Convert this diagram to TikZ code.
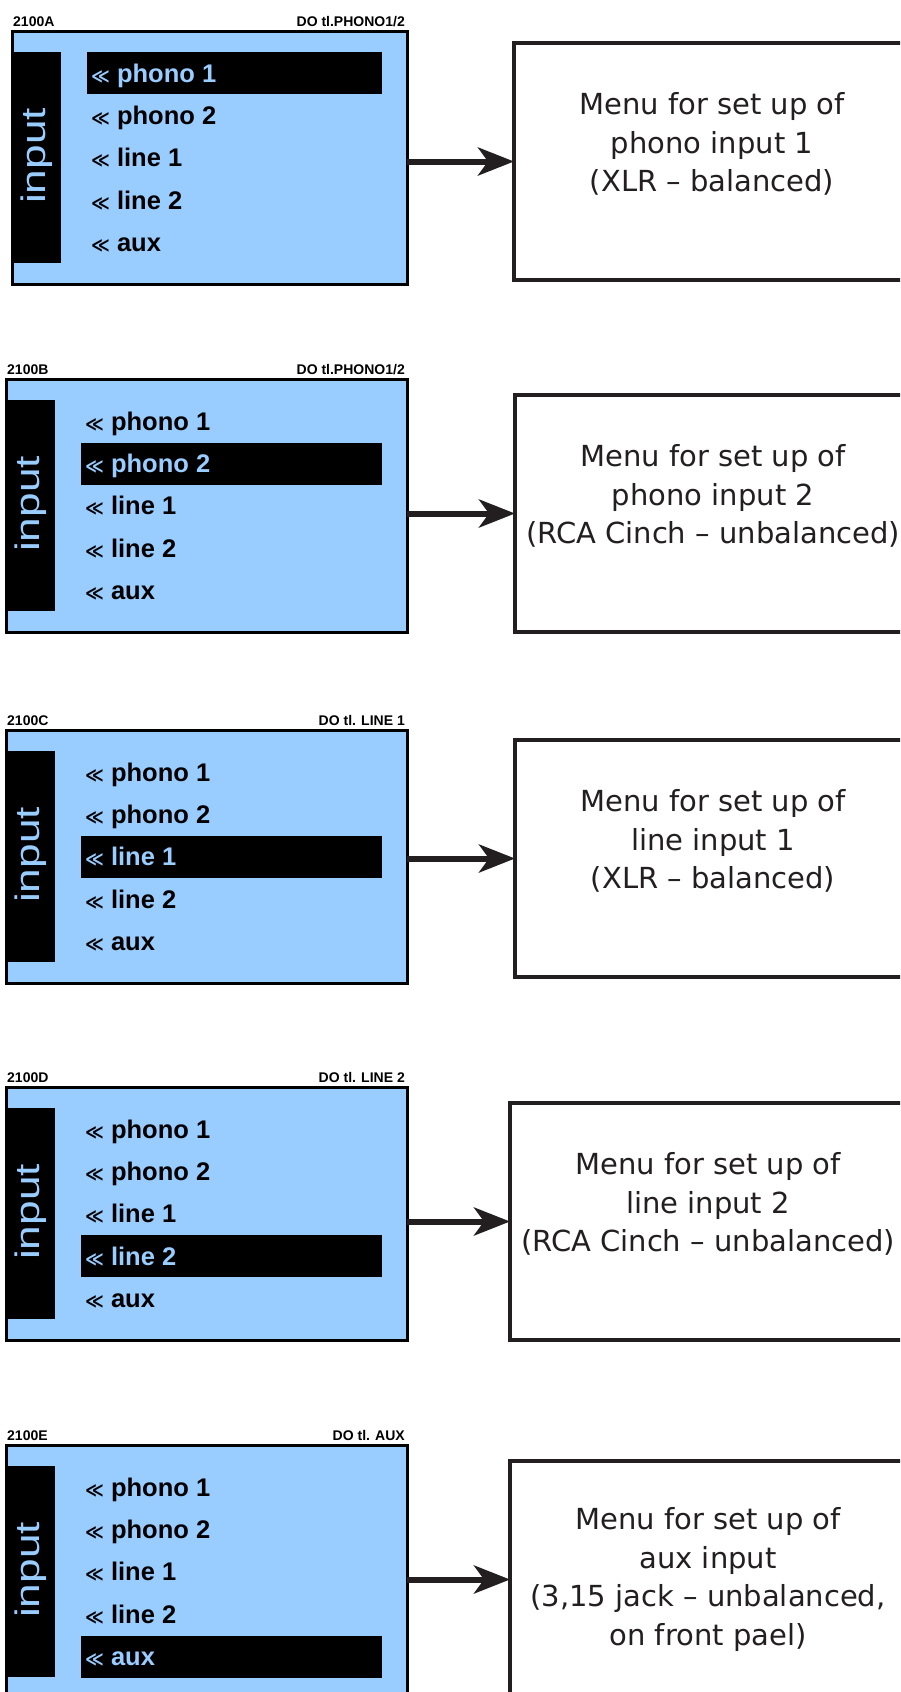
\documentclass[tikz,border=0pt]{standalone}
\usepackage{fontspec}
\usepackage{tikz}
\usetikzlibrary{arrows.meta}
\usetikzlibrary{calc}
\newfontfamily\rowfont{Liberation Sans}
\newfontfamily\barfont{Liberation Sans}[FakeStretch=1.3]
\newfontfamily\boxfont{DejaVu Sans}
\definecolor{lcd}{HTML}{99CCFF}
\definecolor{ink}{HTML}{231F20}
\newcommand{\chev}{{\boxfont\fontsize{18}{18}\selectfont ≪}}
\tikzset{
	panel/.style={draw=black, line width=3pt, fill=lcd, anchor=north west, minimum height=253pt, inner sep=0pt, outer sep=0pt},
	tag/.style={font=\rowfont\bfseries\fontsize{14}{14}\selectfont, inner sep=0pt},
	bartext/.style={font=\barfont\fontsize{34}{34}\selectfont, text=lcd, rotate=90, inner sep=0pt},
	menurow/.style={font=\rowfont\bfseries\fontsize{25.5}{25.5}\selectfont, inner sep=0pt, anchor=base west},
	menubox/.style={draw=ink, line width=4pt, fill=white, anchor=north west, outer sep=0pt, minimum width=396pt, minimum height=237pt, align=center, font=\boxfont\fontsize{29}{38.5}\selectfont, text=ink},
	arr/.style={draw=ink, line width=6pt, -{Stealth[length=36pt, width=28pt, inset=10pt]}}
}
\newcommand{\inputmenu}[6] % name, left edge, top edge, tag, target, selected row
{
	% display frame
	\node[panel, minimum width=407pt-#2pt] (#1) at (#2,#3) {};
	% header above the frame
	\node[tag, anchor=base west] (#1tag) at (#2+1,#3-5) {#4};
	\node[tag, anchor=base east] (#1dest) at (405,#3-5) {#5};
	% black side bar with rotated title
	\fill[black] (#2,#3+21) rectangle (#2+49,#3+232);
	\node[bartext] (#1title) at (#2+25,#3+125) {input};
	% entries, the selected one inverted
	\foreach \entry [count=\k] in {phono 1, phono 2, line 1, line 2, aux}
	{
		\ifnum\k=#6
			\fill[black] (#2+75,#3+42.3*\k-21) rectangle (382,#3+42.3*\k+21);
			\node[menurow, text=lcd] (#1row\k) at (#2+79,#3+42.3*\k+9) {\chev\hspace{7pt}\entry};
		\else
			\node[menurow] (#1row\k) at (#2+79,#3+42.3*\k+9) {\chev\hspace{7pt}\entry};
		\fi
	}
}

\begin{document}
\begin{tikzpicture}[x=1pt, y=-1pt]
	% page: 900 x 1692 px, 1px = 1pt, y pointing down
	\useasboundingbox (0,0) rectangle (900,1692);
	\clip (0,0) rectangle (900,1692);
	% input screens
	\inputmenu{mA}{12}{31}{2100A}{DO tl.PHONO1/2}{1}
	\inputmenu{mB}{6}{379}{2100B}{DO tl.PHONO1/2}{2}
	\inputmenu{mC}{6}{730}{2100C}{DO tl. LINE 1}{3}
	\inputmenu{mD}{6}{1087}{2100D}{DO tl. LINE 2}{4}
	\inputmenu{mE}{6}{1445}{2100E}{DO tl. AUX}{5}
	
	% set up menus
	\node[menubox] (bA) at (514,43) {Menu for set up of\\phono input 1\\(XLR – balanced)\\~};
	\node[menubox] (bB) at (515,395) {Menu for set up of\\phono input 2\\(RCA Cinch – unbalanced)\\~};
	\node[menubox] (bC) at (515,740) {Menu for set up of\\line input 1\\(XLR – balanced)\\~};
	\node[menubox] (bD) at (510,1103) {Menu for set up of\\line input 2\\(RCA Cinch – unbalanced)\\~};
	\node[menubox] (bE) at (510,1461) {Menu for set up of\\aux input\\(3,15 jack – unbalanced,\\on front pael)};
	
	% arrows
	\draw[arr] (mA.east |- bA.west) -- (bA.west);
	\draw[arr] (mB.east |- bB.west) -- (bB.west);
	\draw[arr] (mC.east |- bC.west) -- (bC.west);
	\draw[arr] (mD.east |- bD.west) -- (bD.west);
	\draw[arr] (mE.east |- bE.west) -- (bE.west);
\end{tikzpicture}
\end{document}
